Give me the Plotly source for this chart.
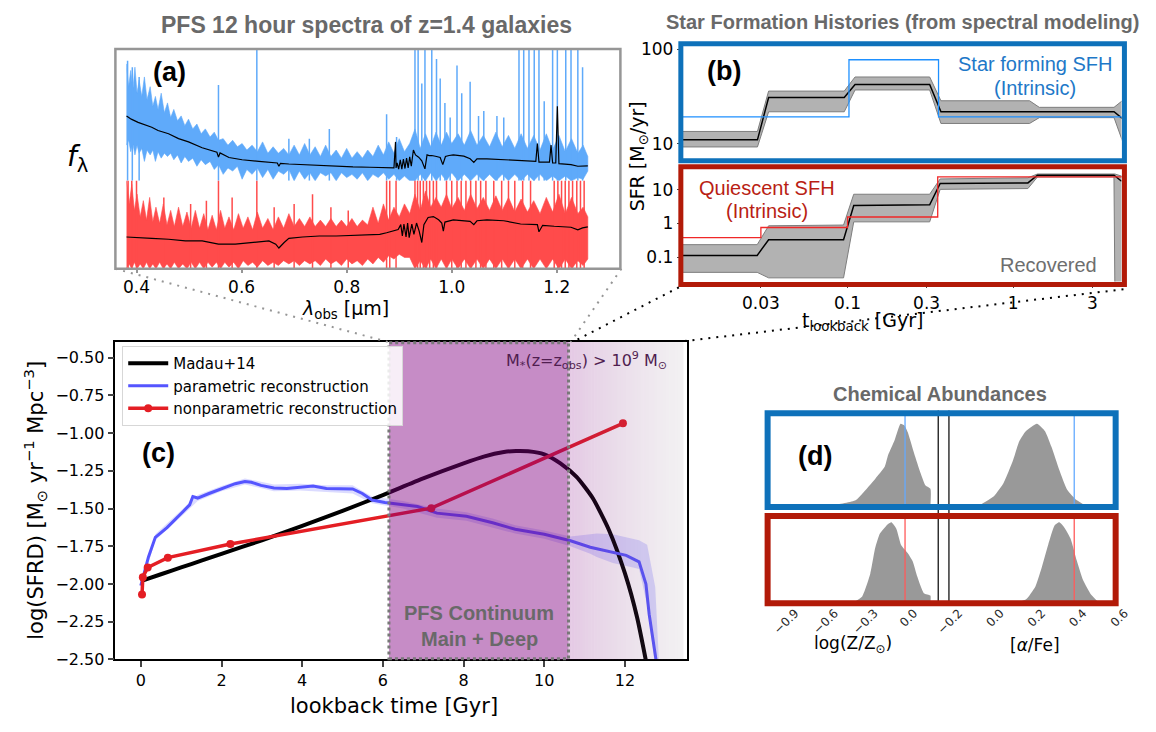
import plotly.graph_objects as go

W, H = 1156, 732

# ---------------- (a) spectra (arbitrary flux units) ----------------
a_ticks = [0.4, 0.6, 0.8, 1.0, 1.2]

lam_sf_model = [0.381, 0.390, 0.403, 0.416, 0.429, 0.441, 0.461, 0.480, 0.499, 0.525, 0.544, 0.553, 0.556,
                0.559, 0.576, 0.601, 0.633, 0.652, 0.668, 0.671, 0.674, 0.690, 0.716, 0.748, 0.780, 0.812,
                0.844, 0.876, 0.890, 0.893, 0.894, 0.896, 0.899, 0.902, 0.905, 0.908, 0.911, 0.914, 0.917,
                0.920, 0.923, 0.927, 0.931, 0.937, 0.943, 0.949, 0.953, 0.957, 0.962, 0.971, 0.978, 0.983,
                0.988, 0.995, 1.003, 1.023, 1.035, 1.042, 1.048, 1.067, 1.099, 1.131, 1.160, 1.163, 1.166,
                1.186, 1.189, 1.192, 1.198, 1.201, 1.204, 1.227, 1.240, 1.259]
flux_sf_model = [2.00, 1.90, 1.80, 1.72, 1.65, 1.55, 1.45, 1.30, 1.20, 1.02, 0.92, 0.88, 0.73,
                 0.86, 0.72, 0.65, 0.60, 0.58, 0.55, 0.45, 0.54, 0.52, 0.50, 0.47, 0.45, 0.43,
                 0.42, 0.41, 0.40, 1.20, 0.40, 0.55, 0.36, 0.65, 0.36, 0.67, 0.38, 0.70, 0.40,
                 0.74, 0.45, 0.95, 0.80, 0.73, 0.62, 0.37, 0.80, 0.78, 0.78, 0.75, 0.72, 0.50,
                 0.75, 0.78, 0.80, 0.76, 0.68, 0.57, 0.68, 0.68, 0.66, 0.63, 0.60, 1.15, 0.58,
                 0.58, 1.10, 0.55, 0.55, 2.30, 0.53, 0.50, 0.45, 0.46]

lam_env_sf = [0.381, 0.385, 0.389, 0.393, 0.397, 0.401, 0.405, 0.410, 0.415, 0.420, 0.426, 0.431, 0.436,
              0.441, 0.447, 0.453, 0.459, 0.465, 0.471, 0.478, 0.485, 0.492, 0.499, 0.507, 0.515, 0.523,
              0.531, 0.540, 0.548, 0.556, 0.565, 0.574, 0.583, 0.592, 0.601, 0.610, 0.620, 0.630, 0.640,
              0.650, 0.660, 0.670, 0.680, 0.690, 0.700, 0.710, 0.720, 0.730, 0.740, 0.750, 0.760, 0.770,
              0.780, 0.790, 0.800, 0.810, 0.820, 0.830, 0.840, 0.850, 0.860, 0.870, 0.880, 0.890, 0.900,
              0.910, 0.920, 0.930, 0.940, 0.950, 0.960, 0.970, 0.980, 0.990, 1.000, 1.012, 1.024, 1.036,
              1.048, 1.060, 1.072, 1.084, 1.096, 1.108, 1.120, 1.132, 1.144, 1.156, 1.168, 1.180, 1.192,
              1.204, 1.216, 1.228, 1.240, 1.250, 1.259]
sf_env_hi = [3.6, 2.9, 3.4, 2.8, 3.5, 2.7, 3.1, 2.6, 3.2, 2.5, 2.9, 2.3, 2.6,
             2.2, 2.7, 2.1, 2.4, 1.95, 2.2, 1.85, 2.0, 1.7, 1.9, 1.6, 1.75, 1.45,
             1.6, 1.35, 1.5, 1.25, 1.3, 1.1, 1.25, 1.05, 1.15, 0.95, 1.1, 0.9, 1.2,
             0.85, 1.05, 0.85, 1.0, 0.8, 1.1, 0.8, 1.15, 0.8, 1.05, 0.75, 1.1, 0.75,
             0.95, 0.7, 1.0, 0.7, 0.9, 0.7, 0.95, 0.75, 1.1, 0.8, 1.2, 0.85, 1.3,
             0.9, 1.15, 1.6, 1.0, 1.45, 1.05, 1.5, 1.1, 1.5, 1.15, 1.45, 1.1, 1.55,
             1.1, 1.4, 1.05, 1.5, 1.05, 1.4, 1.0, 1.45, 1.0, 1.4, 0.95, 1.45, 0.95,
             1.4, 0.9, 1.3, 0.85, 1.1, 0.75]
sf_env_lo = [1.1, 1.25, 0.9, 1.15, 0.8, 1.1, 0.85, 1.0, 0.6, 0.95, 0.8, 0.95, 0.6,
             0.9, 0.7, 0.85, 0.75, 0.85, 0.65, 0.8, 0.55, 0.75, 0.6, 0.7, 0.45, 0.65,
             0.5, 0.6, 0.35, 0.5, 0.2, 0.4, 0.3, 0.45, 0.05, 0.35, 0.2, 0.4, 0.1,
             0.35, 0.05, 0.3, 0.2, 0.35, 0.0, 0.3, 0.05, 0.25, 0.0, 0.25, 0.15, 0.25,
             0.0, 0.25, 0.1, 0.2, 0.05, 0.25, 0.0, 0.2, 0.1, 0.25, 0.05, 0.2, 0.0,
             0.15, 0.0, 0.0, 0.2, 0.0, 0.25, 0.0, 0.2, 0.0, 0.25, 0.0, 0.2, 0.0,
             0.2, 0.0, 0.2, 0.0, 0.2, 0.0, 0.2, 0.0, 0.2, 0.0, 0.2, 0.0, 0.15,
             0.0, 0.15, 0.0, 0.1, 0.05, 0.3]
sf_spike_lam = [0.556, 0.629, 0.690, 0.729, 0.767, 0.876, 0.895, 0.930, 0.936, 0.943, 0.949, 0.962, 0.971,
                0.978, 0.987, 0.997, 1.010, 1.019, 1.035, 1.051, 1.061, 1.086, 1.099, 1.128, 1.137, 1.147,
                1.157, 1.166, 1.176, 1.192, 1.201, 1.217, 1.227, 1.240, 1.249, 0.383, 0.392, 0.405]
sf_spike_top = [2.95, 4.1, 1.3, 1.3, 1.6, 2.05, 1.35, 4.1, 4.1, 3.0, 4.1, 4.1, 3.75,
                3.15, 2.4, 1.95, 3.55, 2.7, 3.05, 2.0, 2.15, 2.0, 1.95, 4.1, 4.1, 4.1,
                4.1, 4.1, 2.45, 4.1, 4.1, 4.1, 4.1, 4.1, 3.5, 3.7, 3.5, 3.2]

lam_q_model = [0.381, 0.397, 0.429, 0.461, 0.493, 0.525, 0.556, 0.588, 0.620, 0.652, 0.665, 0.671, 0.681,
               0.690, 0.716, 0.748, 0.780, 0.812, 0.844, 0.863, 0.876, 0.888, 0.898, 0.903, 0.906, 0.909,
               0.913, 0.916, 0.919, 0.924, 0.928, 0.933, 0.938, 0.943, 0.947, 0.955, 0.965, 0.975, 0.981,
               0.984, 0.987, 1.003, 1.023, 1.035, 1.042, 1.048, 1.067, 1.099, 1.131, 1.163, 1.166, 1.173,
               1.195, 1.227, 1.240, 1.249, 1.259]
flux_q_model = [0.98, 0.96, 0.94, 0.91, 0.86, 0.86, 0.76, 0.76, 0.81, 0.86, 0.76, 0.64, 0.81,
                0.94, 0.98, 1.01, 1.01, 1.03, 1.04, 1.06, 1.11, 1.16, 1.21, 1.36, 1.01, 1.38,
                0.98, 1.41, 0.96, 1.38, 1.06, 1.41, 1.16, 0.81, 1.36, 1.58, 1.61, 1.51, 1.41,
                1.16, 1.44, 1.51, 1.48, 1.46, 1.36, 1.48, 1.51, 1.48, 1.38, 1.36, 1.14, 1.34,
                1.31, 1.28, 1.20, 1.26, 1.29]

lam_env_q = [0.381, 0.386, 0.391, 0.396, 0.401, 0.407, 0.413, 0.419, 0.425, 0.431, 0.437, 0.444, 0.451,
             0.458, 0.465, 0.472, 0.480, 0.488, 0.496, 0.504, 0.512, 0.520, 0.528, 0.536, 0.544, 0.552,
             0.560, 0.568, 0.576, 0.585, 0.594, 0.603, 0.612, 0.621, 0.630, 0.640, 0.650, 0.660, 0.670,
             0.680, 0.690, 0.700, 0.710, 0.720, 0.730, 0.740, 0.750, 0.760, 0.770, 0.780, 0.790, 0.800,
             0.810, 0.820, 0.830, 0.840, 0.850, 0.860, 0.870, 0.880, 0.890, 0.900, 0.910, 0.920, 0.930,
             0.940, 0.950, 0.960, 0.970, 0.980, 0.990, 1.000, 1.012, 1.024, 1.036, 1.048, 1.060, 1.072,
             1.084, 1.096, 1.108, 1.120, 1.132, 1.144, 1.156, 1.168, 1.180, 1.192, 1.204, 1.216, 1.228,
             1.240, 1.250, 1.259]
q_env_hi = [2.8, 2.0, 2.6, 1.8, 2.3, 1.6, 2.1, 1.5, 2.2, 1.45, 1.9, 1.4, 2.0,
            1.35, 1.8, 1.3, 1.9, 1.3, 1.75, 1.25, 1.8, 1.25, 1.7, 1.2, 1.65, 1.2,
            1.8, 1.25, 1.6, 1.2, 1.7, 1.25, 1.6, 1.2, 1.75, 1.25, 1.55, 1.2, 1.6,
            1.25, 1.7, 1.3, 1.55, 1.3, 1.6, 1.3, 1.5, 1.3, 1.55, 1.3, 1.5, 1.3,
            1.55, 1.3, 1.5, 1.35, 1.9, 1.4, 2.0, 1.5, 1.9, 1.6, 2.0, 1.7, 2.3,
            1.8, 2.4, 1.9, 2.2, 1.9, 2.3, 1.85, 2.2, 1.8, 2.3, 1.85, 2.2, 1.8,
            2.25, 1.8, 2.2, 1.75, 2.15, 1.75, 2.1, 1.7, 2.2, 1.75, 2.3, 1.7, 2.2,
            1.7, 1.9, 1.6]
q_env_lo = [0.0, 0.15, 0.0, 0.2, 0.0, 0.15, 0.0, 0.2, 0.0, 0.15, 0.0, 0.2, 0.0,
            0.15, 0.0, 0.2, 0.0, 0.15, 0.0, 0.2, 0.0, 0.2, 0.0, 0.2, 0.05, 0.2,
            0.0, 0.2, 0.05, 0.2, 0.0, 0.25, 0.1, 0.2, 0.05, 0.25, 0.1, 0.2, 0.1,
            0.25, 0.15, 0.25, 0.1, 0.25, 0.15, 0.25, 0.1, 0.3, 0.15, 0.25, 0.1, 0.3,
            0.15, 0.25, 0.1, 0.3, 0.15, 0.35, 0.2, 0.4, 0.3, 0.45, 0.35, 0.35, 0.0,
            0.25, 0.0, 0.3, 0.0, 0.3, 0.0, 0.3, 0.0, 0.3, 0.0, 0.3, 0.0, 0.3,
            0.0, 0.3, 0.0, 0.3, 0.0, 0.3, 0.0, 0.3, 0.0, 0.3, 0.0, 0.3, 0.0,
            0.25, 0.1, 0.3]
q_spike_lam = [0.384, 0.391, 0.400, 0.452, 0.503, 0.533, 0.556, 0.582, 0.629, 0.662, 0.700, 0.735, 0.770,
               0.803, 0.876, 0.882, 0.894, 0.930, 0.935, 0.940, 0.946, 0.952, 0.958, 0.965, 0.971, 0.990,
               1.000, 1.010, 1.018, 1.027, 1.036, 1.046, 1.055, 1.065, 1.080, 1.095, 1.108, 1.120, 1.135,
               1.150, 1.195, 1.202, 1.209, 1.216, 1.223, 1.230, 1.238, 1.245, 1.252]
q_spike_top = [2.8, 2.8, 2.8, 2.2, 2.0, 2.1, 2.8, 2.2, 2.8, 1.9, 2.0, 2.3, 1.9,
               1.8, 2.8, 2.8, 2.8, 2.8, 2.8, 2.8, 2.8, 2.8, 2.8, 2.8, 2.8, 2.8,
               2.8, 2.8, 2.8, 2.8, 2.8, 2.8, 2.8, 2.8, 2.8, 2.8, 2.8, 2.8, 2.8,
               2.8, 2.8, 2.8, 2.8, 2.8, 2.8, 2.8, 2.8, 2.8, 2.8]

# ---------------- (b) star formation histories ----------------
b_ticks = [0.03, 0.1, 0.3, 1, 3]
b_ticktext = ["0.03", "0.1", "0.3", "1", "3"]

sf_int_t = [0.01, 0.102, 0.354, 4.6]
sf_int_sfr = [19.3, 77.5, 19.3, 19.3]
sf_rec_t = [0.01, 0.0286, 0.0334, 0.0955, 0.111, 0.313, 0.366, 4.055, 4.62]
sf_rec_sfr = [11.0, 11.0, 30.8, 30.8, 42.4, 42.4, 21.8, 21.8, 18.1]
sf_band_t = [0.01, 0.0286, 0.0334, 0.0955, 0.111, 0.313, 0.366, 1.254, 1.435, 4.055, 4.62]
sf_band_hi = [13.5, 13.5, 36.1, 36.1, 50.9, 50.9, 28.5, 28.5, 24.3, 24.3, 29.2]
sf_band_lo = [9.25, 9.25, 21.8, 21.8, 37.1, 37.1, 16.4, 16.4, 18.9, 18.9, 10.0]

q_int_t = [0.01, 0.030, 0.1, 0.35, 4.6]
q_int_sfr = [0.38, 0.76, 1.56, 24.4, 24.4]
q_rec_t = [0.01, 0.0285, 0.0334, 0.0946, 0.109, 0.313, 0.362, 1.225, 1.40, 4.055, 4.5]
q_rec_sfr = [0.112, 0.112, 0.327, 0.327, 3.42, 3.6, 15.6, 16.2, 27.4, 27.4, 18.2]
q_band_t = [0.01, 0.0285, 0.0334, 0.0946, 0.109, 0.313, 0.362, 1.225, 1.40, 4.05, 4.1, 4.6]
q_band_hi = [0.234, 0.234, 0.855, 0.9, 7.45, 7.45, 21.3, 23.0, 29.9, 29.9, 29.9, 25.0]
q_band_lo = [0.035, 0.035, 0.024, 0.024, 1.12, 1.12, 10.4, 11.0, 24.4, 24.4, 0.015, 0.015]

# ---------------- (c) cosmic SFRD ----------------
c_xticks = [0, 2, 4, 6, 8, 10, 12]
c_yticks = [-0.5, -0.75, -1.0, -1.25, -1.5, -1.75, -2.0, -2.25, -2.5]

t_madau = [0.0, 0.5, 1.0, 1.5, 2.0, 3.0, 4.0, 5.0, 6.0, 7.0, 8.0, 8.5, 9.0, 9.3, 9.6, 10.0, 10.4, 10.8,
           11.2, 11.6, 12.0, 12.3, 12.55]
y_madau = [-1.98, -1.935, -1.89, -1.845, -1.80, -1.71, -1.615, -1.515, -1.41, -1.30, -1.20, -1.155,
           -1.125, -1.118, -1.12, -1.14, -1.20, -1.29, -1.43, -1.64, -1.93, -2.22, -2.55]

t_par = [0.0, 0.12, 0.19, 0.36, 0.65, 1.05, 1.21, 1.29, 1.41, 1.69, 2.0, 2.34, 2.58, 2.74, 2.98, 3.3,
         3.62, 3.95, 4.27, 4.6, 4.93, 5.25, 5.49, 5.73, 6.05, 6.5, 6.86, 7.34, 8.07, 8.72, 9.28, 10.0,
         10.65, 11.14, 11.7, 12.03, 12.35, 12.52, 12.6, 12.78]
y_par = [-2.01, -1.885, -1.82, -1.69, -1.626, -1.519, -1.475, -1.42, -1.43, -1.40, -1.367, -1.335,
         -1.32, -1.325, -1.346, -1.363, -1.367, -1.357, -1.35, -1.367, -1.367, -1.37, -1.40, -1.443,
         -1.46, -1.475, -1.486, -1.53, -1.551, -1.594, -1.637, -1.67, -1.713, -1.756, -1.788, -1.81,
         -1.853, -2.0, -2.2, -2.52]
t_par_band = [0.0, 0.36, 1.05, 1.41, 2.0, 2.58, 3.3, 3.95, 4.6, 5.25, 5.73, 6.5, 7.34, 8.07, 8.72,
              9.28, 10.0, 10.65, 11.14, 11.3, 11.7, 12.2, 12.35, 12.55, 12.75, 12.85]
par_band_hi = [-1.99, -1.67, -1.50, -1.41, -1.35, -1.30, -1.34, -1.335, -1.345, -1.345, -1.42, -1.45,
               -1.50, -1.525, -1.565, -1.61, -1.645, -1.685, -1.67, -1.665, -1.67, -1.70, -1.71,
               -1.74, -2.02, -2.55]
par_band_lo = [-2.03, -1.71, -1.54, -1.45, -1.385, -1.34, -1.385, -1.38, -1.39, -1.40, -1.465, -1.50,
               -1.56, -1.58, -1.625, -1.665, -1.70, -1.75, -1.80, -1.82, -1.86, -1.89, -1.90, -2.14,
               -2.55, -2.55]

t_np = [0.03, 0.05, 0.17, 0.67, 2.22, 7.2, 11.95]
y_np = [-2.07, -1.955, -1.89, -1.825, -1.735, -1.497, -0.935]

pfs_window = [6.15, 10.6]
faded_window = [10.6, 13.45]

# ---------------- (d) chemical abundances ----------------
z_ticks = [-0.9, -0.6, -0.3, 0.0]
af_ticks = [-0.2, 0.0, 0.2, 0.4, 0.6]
sf_z_x = [-0.70, -0.546, -0.374, -0.324, -0.226, -0.153, -0.128, -0.079, -0.034, -0.005, 0.02, 0.069,
          0.118, 0.155, 0.192, 0.192]
sf_z_y = [0.0, 0.01, 0.07, 0.15, 0.33, 0.48, 0.62, 0.80, 1.0, 0.98, 0.90, 0.64, 0.40, 0.25, 0.21, 0.0]
sf_af_x = [-0.065, 0.012, 0.059, 0.105, 0.135, 0.166, 0.22, 0.259, 0.29, 0.328, 0.366, 0.413, 0.459]
sf_af_y = [0.0, 0.12, 0.28, 0.56, 0.79, 0.91, 1.0, 0.91, 0.72, 0.44, 0.20, 0.07, 0.0]
q_z_x = [-0.398, -0.324, -0.263, -0.226, -0.19, -0.128, -0.103, -0.066, -0.03, 0.02, 0.057, 0.094,
         0.142, 0.192, 0.192]
q_z_y = [0.0, 0.08, 0.36, 0.68, 0.86, 0.98, 1.0, 0.92, 0.72, 0.62, 0.52, 0.32, 0.12, 0.09, 0.0]
q_af_x = [0.105, 0.166, 0.212, 0.243, 0.274, 0.305, 0.328, 0.351, 0.382, 0.413, 0.443, 0.482, 0.52]
q_af_y = [0.0, 0.04, 0.20, 0.44, 0.72, 0.96, 1.0, 0.94, 0.80, 0.52, 0.28, 0.10, 0.0]
true_z = 0.0
true_af = 0.4

# ---------------- styling ----------------
BLUE_BOX = "rgb(14,113,186)"
RED_BOX = "rgb(178,26,8)"
SPEC_BLUE = "rgb(95,170,250)"
SPEC_RED = "rgb(255,75,75)"
GRAY_T = "rgb(105,105,105)"
DJ = "DejaVu Sans"
HV = "Liberation Sans"


def px(x):
    return x / W


def py(y):
    return 1 - y / H


def xdom(a, b):
    return [px(a), px(b)]


def ydom(top, bot):
    return [py(bot), py(top)]


def spikes(lams, tops):
    xs, ys = [], []
    for l, t in zip(lams, tops):
        xs += [l, l, None]
        ys += [0, t, None]
    return xs, ys


fig = go.Figure()

# (a) spectra
fig.add_trace(go.Scatter(x=lam_env_sf + lam_env_sf[::-1], y=sf_env_hi + sf_env_lo[::-1], fill="toself",
                         fillcolor=SPEC_BLUE, line=dict(width=0.6, color=SPEC_BLUE), mode="lines",
                         xaxis="x", yaxis="y", showlegend=False, hoverinfo="skip"))
sx, sy = spikes(sf_spike_lam, sf_spike_top)
fig.add_trace(go.Scatter(x=sx, y=sy, mode="lines", line=dict(width=1.5, color=SPEC_BLUE),
                         xaxis="x", yaxis="y", showlegend=False))
fig.add_trace(go.Scatter(x=lam_sf_model, y=flux_sf_model, mode="lines", line=dict(width=1.2, color="black"),
                         xaxis="x", yaxis="y", showlegend=False))

fig.add_trace(go.Scatter(x=lam_env_q + lam_env_q[::-1], y=q_env_hi + q_env_lo[::-1], fill="toself",
                         fillcolor=SPEC_RED, line=dict(width=0.6, color=SPEC_RED), mode="lines",
                         xaxis="x2", yaxis="y2", showlegend=False, hoverinfo="skip"))
sx, sy = spikes(q_spike_lam, q_spike_top)
fig.add_trace(go.Scatter(x=sx, y=sy, mode="lines", line=dict(width=1.5, color=SPEC_RED),
                         xaxis="x2", yaxis="y2", showlegend=False))
fig.add_trace(go.Scatter(x=lam_q_model, y=flux_q_model, mode="lines", line=dict(width=1.2, color="black"),
                         xaxis="x2", yaxis="y2", showlegend=False))

# (b) SFHs
BAND_FILL = "rgb(178,178,178)"
BAND_EDGE = "rgb(125,125,125)"
for (bt, bhi, blo, rt, rs, it, isfr, icol, xa, ya) in [
        (sf_band_t, sf_band_hi, sf_band_lo, sf_rec_t, sf_rec_sfr, sf_int_t, sf_int_sfr,
         "rgb(30,144,255)", "x3", "y3"),
        (q_band_t, q_band_hi, q_band_lo, q_rec_t, q_rec_sfr, q_int_t, q_int_sfr,
         "rgb(240,40,40)", "x4", "y4")]:
    fig.add_trace(go.Scatter(x=bt + bt[::-1], y=bhi + blo[::-1], fill="toself", fillcolor=BAND_FILL,
                             line=dict(width=1, color=BAND_EDGE), mode="lines", xaxis=xa, yaxis=ya,
                             showlegend=False, hoverinfo="skip"))
    fig.add_trace(go.Scatter(x=rt, y=rs, mode="lines", line=dict(width=1.5, color="black"),
                             xaxis=xa, yaxis=ya, showlegend=False))
    fig.add_trace(go.Scatter(x=it, y=isfr, mode="lines", line=dict(width=1.3, color=icol, shape="hv"),
                             xaxis=xa, yaxis=ya, showlegend=False))

# (c) SFRD
fig.add_trace(go.Scatter(x=t_par_band + t_par_band[::-1], y=par_band_hi + par_band_lo[::-1], fill="toself",
                         fillcolor="rgba(90,90,255,0.22)", line=dict(width=0), mode="lines",
                         xaxis="x5", yaxis="y5", showlegend=False, hoverinfo="skip"))
fig.add_trace(go.Scatter(x=t_madau, y=y_madau, mode="lines", name="Madau+14",
                         line=dict(width=4, color="black", shape="spline", smoothing=0.6),
                         xaxis="x5", yaxis="y5"))
fig.add_trace(go.Scatter(x=t_par, y=y_par, mode="lines", name="parametric reconstruction",
                         line=dict(width=3, color="rgb(85,85,255)"), xaxis="x5", yaxis="y5"))
fig.add_trace(go.Scatter(x=t_np, y=y_np, mode="lines+markers", name="nonparametric reconstruction",
                         line=dict(width=3.5, color="rgb(228,30,36)"), marker=dict(size=8, color="rgb(228,30,36)"),
                         xaxis="x5", yaxis="y5"))

# (d) abundance posteriors
HIST = "rgb(153,153,153)"
for (hx, hy, xa, ya, tv, lc) in [
        (sf_z_x, sf_z_y, "x6", "y6", true_z, "rgb(100,170,255)"),
        (sf_af_x, sf_af_y, "x7", "y7", true_af, "rgb(100,170,255)"),
        (q_z_x, q_z_y, "x8", "y8", true_z, "rgb(255,90,90)"),
        (q_af_x, q_af_y, "x9", "y9", true_af, "rgb(255,90,90)")]:
    fig.add_trace(go.Scatter(x=hx, y=hy, fill="tozeroy", fillcolor=HIST, mode="lines",
                             line=dict(width=0, color=HIST, shape="spline", smoothing=0.5),
                             xaxis=xa, yaxis=ya, showlegend=False, hoverinfo="skip"))
    fig.add_trace(go.Scatter(x=[tv, tv], y=[0, 1.3], mode="lines", line=dict(width=1.3, color=lc),
                             xaxis=xa, yaxis=ya, showlegend=False))

# ---------------- axes ----------------
hidden = dict(showgrid=False, zeroline=False, showticklabels=False, ticks="", showline=False)
lay = dict(width=W, height=H, margin=dict(l=0, r=0, t=0, b=0), paper_bgcolor="white", plot_bgcolor="rgba(0,0,0,0)",
           font=dict(family=DJ, color="black"), autosize=False)
a_range = [0.3598, 1.321]
lay["xaxis"] = dict(domain=xdom(104, 622), range=a_range, anchor="y", **hidden)
lay["yaxis"] = dict(domain=ydom(44, 178), range=[0, 4.03], anchor="x", **hidden)
lay["xaxis2"] = dict(domain=xdom(104, 622), range=a_range, anchor="y2", showgrid=False, zeroline=False,
                     tickvals=a_ticks, ticktext=["0.4", "0.6", "0.8", "1.0", "1.2"], ticks="outside",
                     ticklen=3, tickcolor="rgb(150,150,150)", tickwidth=1.5, tickfont=dict(size=17, family=DJ))
lay["yaxis2"] = dict(domain=ydom(178, 268), range=[0, 2.71], anchor="x2", **hidden)

b_xr = [-2.0, 0.653]
lay["xaxis3"] = dict(domain=xdom(685, 1136), type="log", range=b_xr, anchor="y3", **hidden)
lay["yaxis3"] = dict(domain=ydom(40, 155), type="log", range=[0.845, 2.034], anchor="x3", showgrid=False,
                     zeroline=False, tickvals=[10, 100], ticktext=["10", "100"], ticks="outside", ticklen=4,
                     tickfont=dict(size=17, family=DJ))
lay["xaxis4"] = dict(domain=xdom(685, 1136), type="log", range=b_xr, anchor="y4", showgrid=False, zeroline=False,
                     tickvals=b_ticks, ticktext=b_ticktext, ticks="outside", ticklen=6,
                     tickfont=dict(size=17, family=DJ))
lay["yaxis4"] = dict(domain=ydom(166, 281), type="log", range=[-1.728, 1.62], anchor="x4", showgrid=False,
                     zeroline=False, tickvals=[0.1, 1, 10], ticktext=["0.1", "1", "10"], ticks="outside",
                     ticklen=4, tickfont=dict(size=17, family=DJ))

lay["xaxis5"] = dict(domain=xdom(104, 690), range=[-0.63, 13.53], anchor="y5", showgrid=False, zeroline=False,
                     tickvals=c_xticks, ticks="outside", ticklen=6, tickwidth=1.5, showline=True, mirror=True,
                     linecolor="black", linewidth=1.5, tickfont=dict(size=16, family=DJ))
lay["yaxis5"] = dict(domain=ydom(343, 668), range=[-2.5, -0.396], anchor="x5", showgrid=False, zeroline=False,
                     tickvals=c_yticks, ticktext=["\u22120.50", "\u22120.75", "\u22121.00", "\u22121.25",
                                                  "\u22121.50", "\u22121.75", "\u22122.00", "\u22122.25",
                                                  "\u22122.50"],
                     ticks="outside", ticklen=6, tickwidth=1.5, showline=True, mirror=True,
                     linecolor="black", linewidth=1.5, tickfont=dict(size=16, family=DJ))

z_range = [-1.025, 0.251]
af_range = [-0.205, 0.6]
dtick = dict(showgrid=False, zeroline=False, ticks="", showline=False, tickangle=-45, ticklabelshift=9,
             tickfont=dict(size=12, family=DJ, color="rgb(40,40,40)"))
lay["xaxis6"] = dict(domain=xdom(775, 948), range=z_range, anchor="y6", **hidden)
lay["yaxis6"] = dict(domain=ydom(416, 511), range=[0, 1.127], anchor="x6", **hidden)
lay["xaxis7"] = dict(domain=xdom(959, 1130), range=af_range, anchor="y7", **hidden)
lay["yaxis7"] = dict(domain=ydom(416, 511), range=[0, 1.127], anchor="x7", **hidden)
lay["xaxis8"] = dict(domain=xdom(775, 948), range=z_range, anchor="y8", tickvals=z_ticks,
                     ticktext=[f"{v:.1f}".replace("-", "\u2212") for v in z_ticks], **dtick)
lay["yaxis8"] = dict(domain=ydom(521, 610), range=[0, 1.08], anchor="x8", **hidden)
lay["xaxis9"] = dict(domain=xdom(959, 1130), range=af_range, anchor="y9", tickvals=af_ticks,
                     ticktext=[f"{v:.1f}".replace("-", "\u2212") for v in af_ticks], **dtick)
lay["yaxis9"] = dict(domain=ydom(521, 610), range=[0, 1.08], anchor="x9", **hidden)

lay["legend"] = dict(x=px(111), y=py(347), xanchor="left", yanchor="top", bgcolor="rgba(255,255,255,0.85)",
                     bordercolor="rgb(215,215,215)", borderwidth=1, font=dict(size=15, family=DJ),
                     tracegroupgap=0, itemwidth=40)
fig.update_layout(**lay)

# ---------------- shapes ----------------
shapes = []


def prect(x0, y0, x1, y1, color, width):
    shapes.append(dict(type="rect", xref="paper", yref="paper", x0=px(x0), x1=px(x1), y0=py(y1), y1=py(y0),
                       line=dict(color=color, width=width), fillcolor="rgba(0,0,0,0)", layer="above"))


def pline(x0, y0, x1, y1, color, width, dash="solid"):
    shapes.append(dict(type="line", xref="paper", yref="paper", x0=px(x0), x1=px(x1), y0=py(y0), y1=py(y1),
                       line=dict(color=color, width=width, dash=dash), layer="above"))


shapes.append(dict(type="rect", xref="x5", yref="y5 domain", x0=pfs_window[0], x1=pfs_window[1], y0=0, y1=1,
                   fillcolor="rgba(128,0,128,0.45)", line=dict(width=0), layer="above"))
n_strips = 40
for i in range(n_strips):
    f = i / (n_strips - 1)
    a = 0.21 + (0.10 - 0.21) * f
    g = int(0 + 110 * f)
    x0 = faded_window[0] + (faded_window[1] - faded_window[0]) * i / n_strips
    x1 = faded_window[0] + (faded_window[1] - faded_window[0]) * (i + 1) / n_strips
    shapes.append(dict(type="rect", xref="x5", yref="y5 domain", x0=x0, x1=x1, y0=0, y1=1,
                       fillcolor=f"rgba(128,{g},128,{a:.3f})", line=dict(width=0), layer="above"))
shapes.append(dict(type="rect", xref="x5", yref="y5 domain", x0=pfs_window[0], x1=pfs_window[1], y0=0.002, y1=0.998,
                   fillcolor="rgba(0,0,0,0)", line=dict(width=3, color="rgb(120,120,120)", dash="3px,3px"),
                   layer="above"))

prect(104, 43, 622, 268, "rgb(150,150,150)", 2.5)
prect(684, 37.5, 1139, 157.5, BLUE_BOX, 5)
prect(684, 163.5, 1139, 284, RED_BOX, 5)
pline(948, 413, 948, 613, "black", 1.2)
pline(959, 413, 959, 613, "black", 1.2)
prect(773, 416, 1130, 512, BLUE_BOX, 6)
prect(773, 521, 1130, 610.5, RED_BOX, 6)

pline(104, 268, 384, 343, "rgb(150,150,150)", 2, "2px,6px")
pline(623, 268, 571, 343, "rgb(150,150,150)", 2, "2px,6px")
pline(682, 287, 573, 343, "black", 2, "2px,6px")
pline(1138, 289, 688, 342, "black", 2, "2px,6px")
fig.update_layout(shapes=shapes)

# ---------------- text ----------------
anns = []


def ann(text, x, y, size, color="black", family=DJ, angle=0, xanchor="center", yanchor="middle"):
    anns.append(dict(text=text, x=px(x), y=py(y), xref="paper", yref="paper", showarrow=False,
                     font=dict(size=size, color=color, family=family), textangle=angle,
                     xanchor=xanchor, yanchor=yanchor))


ann("<b>PFS 12 hour spectra of z=1.4 galaxies</b>", 362, 18, 23, GRAY_T, HV)
ann("<b>Star Formation Histories (from spectral modeling)</b>", 911, 15, 20, GRAY_T, HV)
ann("<b>(a)</b>", 160, 67, 27, "black", HV)
ann("<i>f</i><sub>λ</sub>", 66, 155, 28, "black", DJ)
ann("<i>λ</i><sub>obs</sub> [μm]", 340, 310, 19)
ann("<b>(b)</b>", 728, 66, 27, "black", HV)
ann("Star forming SFH", 1047, 58, 20, "rgb(30,120,200)", HV)
ann("(Intrinsic)", 1047, 83, 20, "rgb(30,120,200)", HV)
ann("Quiescent SFH", 772, 185, 20, "rgb(185,30,20)", HV)
ann("(Intrinsic)", 772, 209, 20, "rgb(185,30,20)", HV)
ann("Recovered", 1061, 264, 20, "rgb(110,110,110)", HV)
ann("SFR [M<sub>⊙</sub>/yr]", 641, 153, 19, "black", DJ, -90)
ann("t<sub>lookback</sub> [Gyr]", 870, 322, 19)
ann("<b>(c)</b>", 148, 457, 27, "black", HV)
ann("M<sub>*</sub>(z=z<sub>obs</sub>) > 10<sup>9</sup> M<sub>⊙</sub>", 672, 362, 16, "rgb(80,30,80)", DJ,
    xanchor="right")
ann("<b>PFS Continuum</b>", 477, 620, 20, "rgb(105,105,105)", HV)
ann("<b>Main + Deep</b>", 477, 647, 20, "rgb(105,105,105)", HV)
ann("log(SFRD) [M<sub>⊙</sub> yr<sup>−1</sup> Mpc<sup>−3</sup>]", 22, 505, 21, "black", DJ, -90)
ann("lookback time [Gyr]", 390, 716, 21)
ann("<b>Chemical Abundances</b>", 950, 396, 20, GRAY_T, HV)
ann("<b>(d)</b>", 822, 460, 27, "black", HV)
ann("log(Z/Z<sub>⊙</sub>)", 861, 653, 17)
ann("[<i>α</i>/Fe]", 1047, 653, 17)
fig.update_layout(annotations=anns)

fig.write_html("out.html", config={"displayModeBar": False, "responsive": False},
               post_script="document.body.style.margin='0px';document.body.style.overflow='hidden';")
